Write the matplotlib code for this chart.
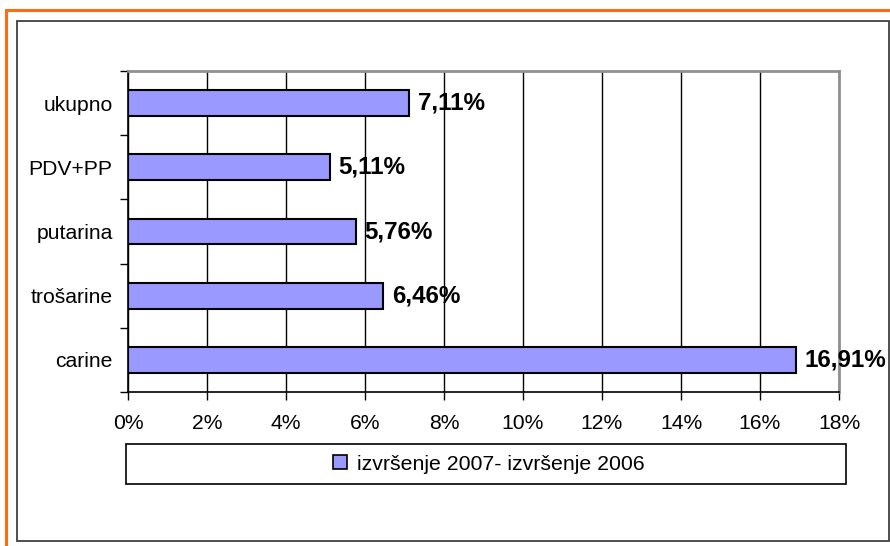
import matplotlib.pyplot as plt
from matplotlib.patches import Rectangle
from matplotlib.lines import Line2D

plt.rcParams['font.family'] = ['Liberation Sans', 'DejaVu Sans']

# Podaci
categories = ["carine", "trošarine", "putarina", "PDV+PP", "ukupno"]
values = [16.91, 6.46, 5.76, 5.11, 7.11]
labels = ["16,91%", "6,46%", "5,76%", "5,11%", "7,11%"]
xticks = [0, 2, 4, 6, 8, 10, 12, 14, 16, 18]
legend_label = "izvršenje 2007- izvršenje 2006"

W, H = 890, 546
fig = plt.figure(figsize=(W / 100, H / 100), dpi=100)


def fx(px):
    return px / W


def fy(py):
    return 1 - py / H


# okviri
fig.patches.append(Rectangle((fx(6), fy(560)), fx(900), 550 / H, transform=fig.transFigure,
                             fill=False, edgecolor="#FF6A13", linewidth=2.2))
fig.patches.append(Rectangle((fx(17), fy(541)), fx(872), 520 / H, transform=fig.transFigure,
                             fill=False, edgecolor="#404040", linewidth=1.3))

ax = fig.add_axes([fx(128), fy(392), fx(839 - 128), (392 - 71) / H])
y = range(len(categories))
ax.barh(y, values, height=0.4, color="#9999FF", edgecolor="black", linewidth=1.5, zorder=3)

for i, (v, lab) in enumerate(zip(values, labels)):
    ax.text(v + 0.22, i, lab, va="center", ha="left", fontsize=17.4, fontweight="bold", zorder=4)

ax.set_xlim(0, 18)
ax.set_ylim(-0.5, len(categories) - 0.5)
ax.set_xticks(xticks)
ax.set_xticklabels([f"{t}%" for t in xticks], fontsize=15.2)
ax.set_yticks(list(y))
ax.set_yticklabels(categories, fontsize=15.2)
ax.set_yticks([i - 0.5 for i in range(len(categories) + 1)], minor=True)
ax.tick_params(axis="y", which="major", length=0, pad=11)
ax.tick_params(axis="y", which="minor", length=6, width=1, direction="out")
ax.tick_params(axis="x", length=6, width=1, direction="out", pad=10)
ax.xaxis.grid(True, color="black", linewidth=1, zorder=0)
ax.set_axisbelow(True)

for s in ["top", "right"]:
    ax.spines[s].set_color("#909090")
    ax.spines[s].set_linewidth(2)
for s in ["bottom", "left"]:
    ax.spines[s].set_color("black")
    ax.spines[s].set_linewidth(1.2)

# legenda
fig.patches.append(Rectangle((fx(126), fy(484)), fx(846 - 126), 40 / H, transform=fig.transFigure,
                             fill=False, edgecolor="black", linewidth=1.2))
handle = Line2D([], [], linestyle="none", marker="s", markersize=10,
                markerfacecolor="#9999FF", markeredgecolor="black", markeredgewidth=1.2)
fig.legend([handle], [legend_label], loc="center", bbox_to_anchor=(fx(488), fy(464)),
           frameon=False, fontsize=15.3, handlelength=0.8, handletextpad=0.4)

fig.savefig("out.png", dpi=100)
